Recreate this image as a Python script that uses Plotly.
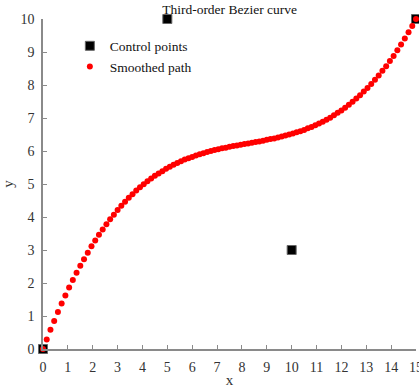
import plotly.graph_objects as go

# Control points
ctrl_x = [0, 5, 10, 15]
ctrl_y = [0, 10, 3, 10]

# Smoothed path
path_x = [0.00, 0.15, 0.30, 0.45, 0.60, 0.75, 0.90, 1.05, 1.20, 1.35,
          1.50, 1.65, 1.80, 1.95, 2.10, 2.25, 2.40, 2.55, 2.70, 2.85,
          3.00, 3.15, 3.30, 3.45, 3.60, 3.75, 3.90, 4.05, 4.20, 4.35,
          4.50, 4.65, 4.80, 4.95, 5.10, 5.25, 5.40, 5.55, 5.70, 5.85,
          6.00, 6.15, 6.30, 6.45, 6.60, 6.75, 6.90, 7.05, 7.20, 7.35,
          7.50, 7.65, 7.80, 7.95, 8.10, 8.25, 8.40, 8.55, 8.70, 8.85,
          9.00, 9.15, 9.30, 9.45, 9.60, 9.75, 9.90, 10.05, 10.20, 10.35,
          10.50, 10.65, 10.80, 10.95, 11.10, 11.25, 11.40, 11.55, 11.70, 11.85,
          12.00, 12.15, 12.30, 12.45, 12.60, 12.75, 12.90, 13.05, 13.20, 13.35,
          13.50, 13.65, 13.80, 13.95, 14.10, 14.25, 14.40, 14.55, 14.70, 14.85,
          15.00]
path_y = [0.00, 0.29, 0.58, 0.85, 1.12, 1.38, 1.62, 1.86, 2.09, 2.31,
          2.52, 2.72, 2.92, 3.11, 3.29, 3.46, 3.62, 3.78, 3.93, 4.07,
          4.21, 4.34, 4.46, 4.58, 4.69, 4.80, 4.90, 4.99, 5.08, 5.17,
          5.25, 5.32, 5.39, 5.46, 5.52, 5.58, 5.64, 5.69, 5.74, 5.78,
          5.82, 5.86, 5.90, 5.93, 5.97, 6.00, 6.03, 6.05, 6.08, 6.10,
          6.13, 6.15, 6.17, 6.19, 6.21, 6.23, 6.25, 6.27, 6.29, 6.31,
          6.34, 6.36, 6.38, 6.41, 6.44, 6.47, 6.50, 6.53, 6.57, 6.60,
          6.64, 6.69, 6.73, 6.78, 6.83, 6.89, 6.95, 7.01, 7.08, 7.16,
          7.23, 7.31, 7.40, 7.49, 7.59, 7.69, 7.80, 7.91, 8.03, 8.16,
          8.29, 8.43, 8.57, 8.73, 8.88, 9.05, 9.23, 9.41, 9.60, 9.79,
          10.00]

x_ticks = list(range(0, 16))
y_ticks = list(range(0, 11))

FONT = "Liberation Serif, Times New Roman, serif"

fig = go.Figure()
fig.add_trace(go.Scatter(
    x=ctrl_x, y=ctrl_y, mode="markers", name="Control points",
    marker=dict(symbol="square", size=9, color="black",
                line=dict(color="#666666", width=1)),
    cliponaxis=False,
))
fig.add_trace(go.Scatter(
    x=path_x, y=path_y, mode="markers", name="Smoothed path",
    marker=dict(symbol="circle", size=6, color="red", line=dict(width=0)),
    cliponaxis=False,
))

axis_common = dict(
    showgrid=False, zeroline=False, showline=True, linecolor="#8a8a8a",
    linewidth=1.5, ticks="inside", ticklen=4, tickcolor="#8a8a8a",
    tickwidth=1, tickfont=dict(family=FONT, size=14, color="#333333"),
    ticklabelstandoff=4, ticklabeloverflow="allow", mirror=False,
    automargin=False,
)

fig.update_layout(
    width=419, height=388,
    margin=dict(l=43, r=3, t=19, b=39),
    paper_bgcolor="white", plot_bgcolor="white",
    font=dict(family=FONT, size=13, color="#333333"),
    title=dict(text="Third-order Bezier curve", x=0.548, xanchor="center",
               y=0.975, yanchor="middle",
               font=dict(family=FONT, size=13.5, color="#111111")),
    xaxis=dict(range=[0, 15], tickvals=x_ticks,
               title=dict(text="x", font=dict(family=FONT, size=15, color="#333333"),
                          standoff=2),
               **axis_common),
    yaxis=dict(range=[0, 10], tickvals=y_ticks,
               title=dict(text="y", font=dict(family=FONT, size=15, color="#333333"),
                          standoff=3),
               **axis_common),
    legend=dict(x=0.072, y=0.965, xanchor="left", yanchor="top",
                bgcolor="rgba(0,0,0,0)",
                font=dict(family=FONT, size=13.5, color="#111111"),
                tracegroupgap=0, itemsizing="trace"),
    showlegend=True,
)

fig.write_html("out.html")
